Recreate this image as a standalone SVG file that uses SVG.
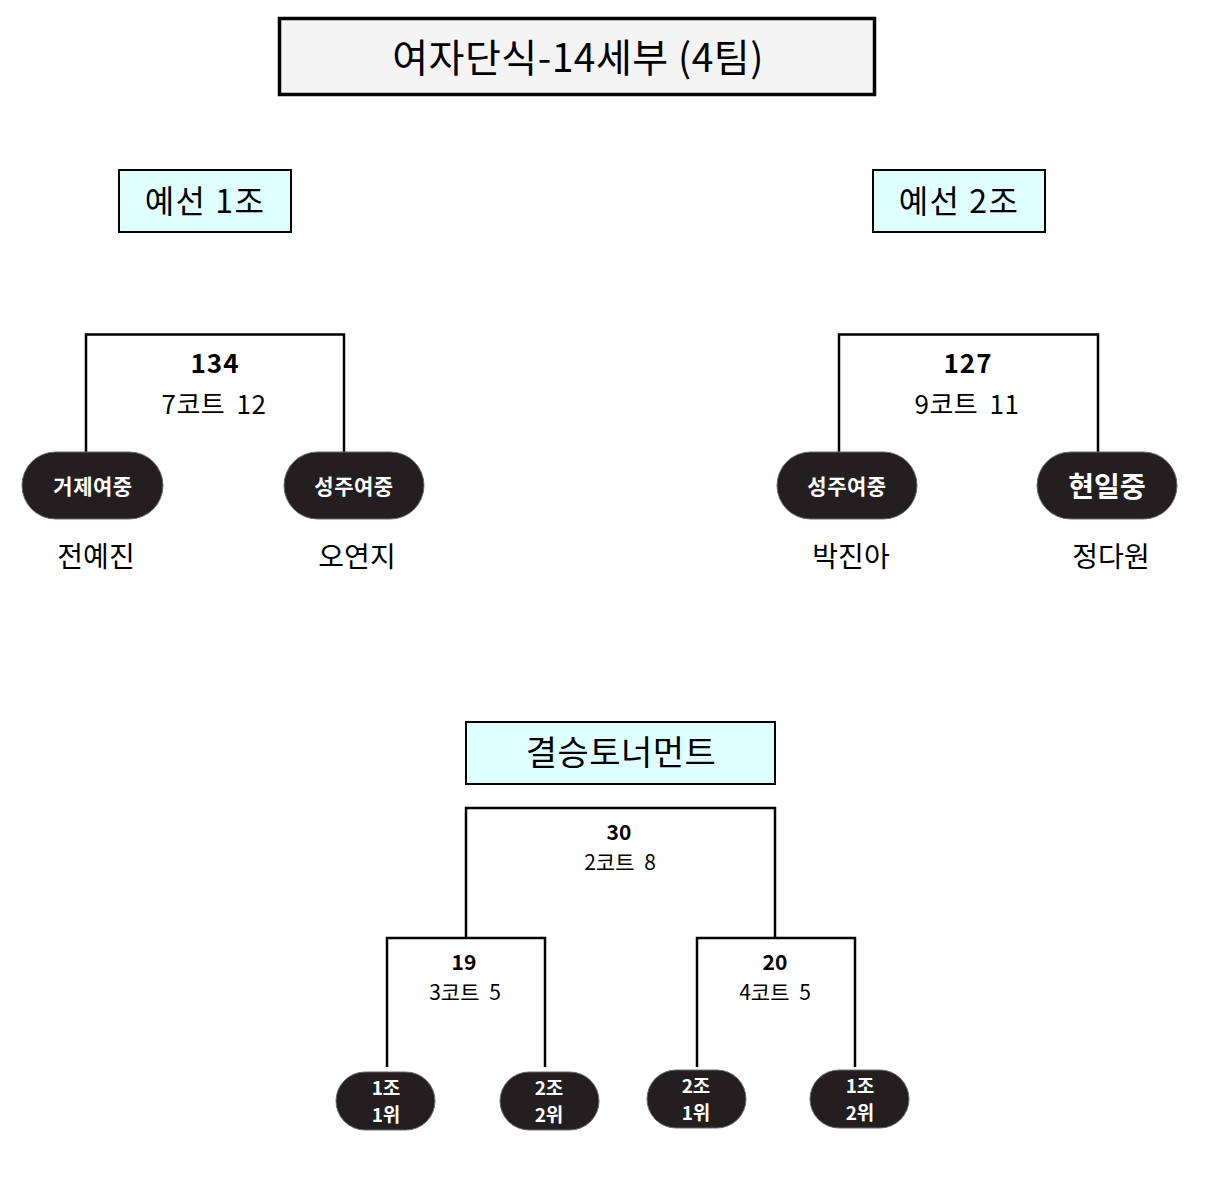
<svg xmlns="http://www.w3.org/2000/svg" width="1232" height="1178" viewBox="0 0 1232 1178">
<style>
text{font-family:"Noto Sans CJK KR","Noto Sans",sans-serif;text-anchor:middle;fill:#000}
.hdr{fill:#e0ffff;stroke:#000;stroke-width:2}
.ln{fill:none;stroke:#000;stroke-width:2.5}
.pill{fill:#231f20;stroke:#6a6a6a;stroke-width:1}
.pt{fill:#fff;font-weight:bold}
.num{font-weight:bold}
.ws{word-spacing:5px}
</style>
<rect width="1232" height="1178" fill="#fff"/>
<g id="title">
<rect x="279.5" y="18.5" width="595" height="76" fill="#f4f4f4" stroke="#000" stroke-width="3.5"/>
<text x="578" y="72" font-size="39" letter-spacing="0.5">여자단식-14세부 (4팀)</text>
</g>
<g id="group1-label">
<rect class="hdr" x="119" y="170" width="172" height="62"/>
<text x="205" y="213" font-size="32" letter-spacing="1.5">예선 1조</text>
</g>
<g id="group2-label">
<rect class="hdr" x="873" y="170" width="172" height="62"/>
<text x="959" y="213" font-size="32" letter-spacing="1.5">예선 2조</text>
</g>
<g id="final-label">
<rect class="hdr" x="466" y="722" width="309" height="62"/>
<text x="621" y="765" font-size="34" letter-spacing="0.5">결승토너먼트</text>
</g>
<g id="connectors">
<polyline class="ln" points="86,452 86,334.5 344,334.5 344,452"/>
<polyline class="ln" points="839,452 839,334.5 1098,334.5 1098,452"/>
<polyline class="ln" points="466,938 466,808 775,808 775,938"/>
<polyline class="ln" points="387,1067 387,938 545,938 545,1067"/>
<polyline class="ln" points="697,1067 697,938 855,938 855,1067"/>
</g>
<g id="match134">
<text class="num" x="215" y="373" font-size="26" letter-spacing="1">134</text>
<text class="ws" x="214" y="414" font-size="26" letter-spacing="0.5">7코트 12</text>
</g>
<g id="match127">
<text class="num" x="968" y="373" font-size="26" letter-spacing="1">127</text>
<text class="ws" x="967" y="414" font-size="26" letter-spacing="0.5">9코트 11</text>
</g>
<g id="match30">
<text class="num" x="619" y="840" font-size="21">30</text>
<text class="ws" x="620" y="870" font-size="21">2코트 8</text>
</g>
<g id="match19">
<text class="num" x="464" y="970" font-size="21">19</text>
<text class="ws" x="465" y="1000" font-size="21">3코트 5</text>
</g>
<g id="match20">
<text class="num" x="775" y="970" font-size="21">20</text>
<text class="ws" x="775" y="1000" font-size="21">4코트 5</text>
</g>
<g id="team-geoje">
<rect class="pill" x="22" y="452" width="141" height="67" rx="33.5"/>
<text class="pt" x="93" y="494" font-size="21" letter-spacing="0.5">거제여중</text>
<text x="96" y="567" font-size="28">전예진</text>
</g>
<g id="team-seongju1">
<rect class="pill" x="284" y="452" width="140" height="67" rx="33.5"/>
<text class="pt" x="354" y="494" font-size="21" letter-spacing="0.5">성주여중</text>
<text x="357" y="567" font-size="28">오연지</text>
</g>
<g id="team-seongju2">
<rect class="pill" x="777" y="452" width="140" height="67" rx="33.5"/>
<text class="pt" x="847" y="494" font-size="21" letter-spacing="0.5">성주여중</text>
<text x="851" y="567" font-size="28">박진아</text>
</g>
<g id="team-hyeonil">
<rect class="pill" x="1037" y="452" width="140" height="67" rx="33.5"/>
<text class="pt" x="1107" y="497" font-size="28">현일중</text>
<text x="1111" y="567" font-size="28">정다원</text>
</g>
<g id="seed-1-1">
<rect class="pill" x="336" y="1072" width="99" height="58" rx="29"/>
<text class="pt" x="386" y="1095" font-size="19">1조</text>
<text class="pt" x="386" y="1122" font-size="19">1위</text>
</g>
<g id="seed-2-2">
<rect class="pill" x="500" y="1072" width="99" height="58" rx="29"/>
<text class="pt" x="549" y="1095" font-size="19">2조</text>
<text class="pt" x="549" y="1122" font-size="19">2위</text>
</g>
<g id="seed-2-1">
<rect class="pill" x="647" y="1070" width="99" height="58" rx="29"/>
<text class="pt" x="696" y="1093" font-size="19">2조</text>
<text class="pt" x="696" y="1120" font-size="19">1위</text>
</g>
<g id="seed-1-2">
<rect class="pill" x="810" y="1070" width="99" height="58" rx="29"/>
<text class="pt" x="860" y="1093" font-size="19">1조</text>
<text class="pt" x="860" y="1120" font-size="19">2위</text>
</g>
</svg>
